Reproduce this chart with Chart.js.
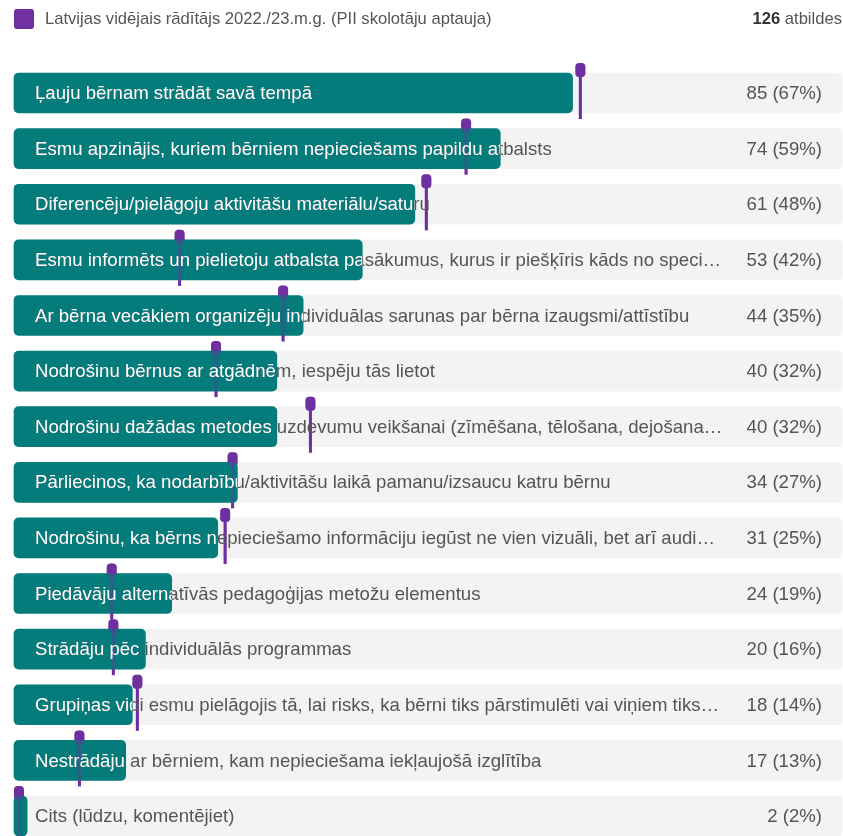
<!DOCTYPE html>
<html lang="lv">
<head>
  <meta charset="utf-8">
  <title>PII skolotāju aptauja</title>
  <script src="https://cdn.jsdelivr.net/npm/chart.js@4.4.1/dist/chart.umd.min.js"></script>
  <style>
    body { margin: 0; background: #fff; }
    #wrap { width: 843px; height: 836px; }
  </style>
</head>
<body>
  <div id="wrap"><canvas id="chart" width="843" height="836"></canvas></div>

  <script>
    // answers from the survey
    var labels = [
      "Ļauju bērnam strādāt savā tempā",
      "Esmu apzinājis, kuriem bērniem nepieciešams papildu atbalsts",
      "Diferencēju/pielāgoju aktivitāšu materiālu/saturu",
      "Esmu informēts un pielietoju atbalsta pasākumus, kurus ir piešķīris kāds no speci…",
      "Ar bērna vecākiem organizēju individuālas sarunas par bērna izaugsmi/attīstību",
      "Nodrošinu bērnus ar atgādnēm, iespēju tās lietot",
      "Nodrošinu dažādas metodes uzdevumu veikšanai (zīmēšana, tēlošana, dejošana…",
      "Pārliecinos, ka nodarbību/aktivitāšu laikā pamanu/izsaucu katru bērnu",
      "Nodrošinu, ka bērns nepieciešamo informāciju iegūst ne vien vizuāli, bet arī audi…",
      "Piedāvāju alternatīvās pedagoģijas metožu elementus",
      "Strādāju pēc individuālās programmas",
      "Grupiņas vidi esmu pielāgojis tā, lai risks, ka bērni tiks pārstimulēti vai viņiem tiks…",
      "Nestrādāju ar bērniem, kam nepieciešama iekļaujošā izglītība",
      "Cits (lūdzu, komentējiet)"
    ];
    var counts = [85, 74, 61, 53, 44, 40, 40, 34, 31, 24, 20, 18, 17, 2];
    var totalAnswers = 126;
    // Latvian average, percent
    var avgPercent = [68.4, 54.6, 49.8, 20.0, 32.5, 24.4, 35.8, 26.4, 25.5, 11.8, 12.0, 14.9, 7.9, 0.6];
    var avgLabel = "Latvijas vidējais rādītājs 2022./23.m.g. (PII skolotāju aptauja)";

    var TEAL = '#037c7b';
    var PURPLE = '#70309f';
    var GREY_TXT = '#555555';
    var FONT = '18.6px "Liberation Sans", Arial, sans-serif';

    var full = counts.map(function () { return totalAnswers; });

    function drawMarkers(chart) {
      var ctx = chart.ctx;
      var xs = chart.scales.x;
      var meta = chart.getDatasetMeta(0);
      ctx.fillStyle = PURPLE;
      avgPercent.forEach(function (p, i) {
        var bar = meta.data[i];
        var x = xs.getPixelForValue(p / 100 * totalAnswers);
        var top = bar.y - bar.height / 2;
        var bottom = bar.y + bar.height / 2;
        ctx.beginPath();
        ctx.roundRect(x - 5, top - 10, 10, 14, 4);
        ctx.fill();
        ctx.fillRect(x - 1.5, top, 3, bottom - top + 6);
      });
    }

    var surveyPlugin = {
      id: 'survey',
      beforeDatasetDraw: function (chart, args) {
        if (args.index === 0) drawMarkers(chart);
      },
      afterDatasetDraw: function (chart, args) {
        if (args.index === 0) {
          // marker shows faintly through the teal bars
          chart.ctx.save();
          chart.ctx.globalAlpha = 0.4;
          drawMarkers(chart);
          chart.ctx.restore();
        }
      },
      afterDatasetsDraw: function (chart) {
        var ctx = chart.ctx;
        var meta = chart.getDatasetMeta(0);
        var area = chart.chartArea;
        ctx.save();
        ctx.font = FONT;
        ctx.textBaseline = 'middle';
        labels.forEach(function (lab, i) {
          var bar = meta.data[i];
          var y = bar.y + 1;
          ctx.textAlign = 'left';
          ctx.fillStyle = GREY_TXT;
          ctx.fillText(lab, 35, y);
          ctx.save();
          ctx.beginPath();
          ctx.rect(bar.base, bar.y - bar.height / 2, bar.x - bar.base, bar.height);
          ctx.clip();
          ctx.fillStyle = '#ffffff';
          ctx.fillText(lab, 35, y);
          ctx.restore();

          var pct = Math.round(counts[i] / totalAnswers * 100);
          ctx.textAlign = 'right';
          ctx.fillStyle = GREY_TXT;
          ctx.fillText(counts[i] + ' (' + pct + '%)', area.right - 20, y);
        });

        // header
        ctx.fillStyle = PURPLE;
        ctx.beginPath();
        ctx.roundRect(14, 9, 20, 20, 3);
        ctx.fill();
        ctx.font = '16.6px "Liberation Sans", Arial, sans-serif';
        ctx.textAlign = 'left';
        ctx.fillStyle = GREY_TXT;
        ctx.fillText(avgLabel, 45, 19);
        ctx.textAlign = 'right';
        var w = ctx.measureText(' atbildes').width;
        ctx.fillText(' atbildes', 842, 19);
        ctx.font = 'bold 16.6px "Liberation Sans", Arial, sans-serif';
        ctx.fillStyle = '#333333';
        ctx.fillText(String(totalAnswers), 842 - w, 19);
        ctx.restore();
      }
    };

    new Chart(document.getElementById('chart').getContext('2d'), {
      type: 'bar',
      data: {
        labels: labels,
        datasets: [
          {
            label: 'Atbildes',
            data: counts,
            backgroundColor: TEAL,
            borderRadius: 5,
            borderSkipped: false,
            barThickness: 40,
            grouped: false,
            clip: false
          },
          {
            label: 'Kopā',
            data: full,
            backgroundColor: '#f3f3f3',
            borderRadius: 4,
            borderSkipped: false,
            barThickness: 40,
            grouped: false,
            clip: false
          }
        ]
      },
      options: {
        indexAxis: 'y',
        responsive: false,
        animation: false,
        layout: { padding: { top: 93, bottom: 20, left: 14, right: 1 } },
        scales: {
          x: { display: false, min: 0, max: totalAnswers },
          y: { display: false, offset: false }
        },
        plugins: {
          legend: { display: false },
          tooltip: { enabled: false }
        }
      },
      plugins: [surveyPlugin]
    });
  </script>
</body>
</html>
